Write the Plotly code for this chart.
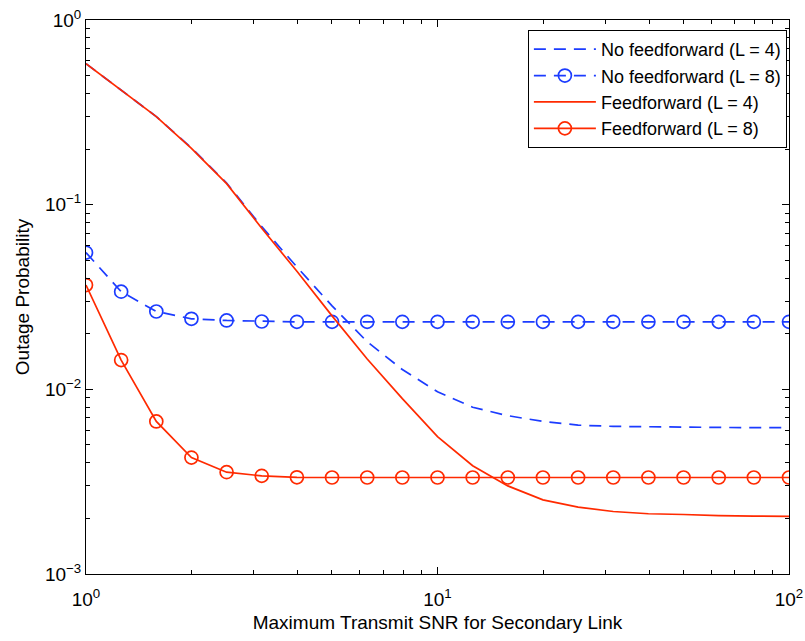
import plotly.graph_objects as go

# Maximum transmit SNR (x-axis grid)
snr = [1.0, 1.259, 1.585, 1.995, 2.512, 3.162, 3.981, 5.012, 6.310, 7.943,
       10.0, 12.59, 15.85, 19.95, 25.12, 31.62, 39.81, 50.12, 63.10, 79.43, 100.0]

# Outage probability series
no_ff_L4 = [0.58, 0.418, 0.300, 0.203, 0.131, 0.076, 0.046, 0.0283, 0.0181, 0.0128,
            0.0097, 0.0080, 0.0072, 0.0067, 0.0064, 0.0063, 0.00626, 0.00624, 0.00622, 0.0062, 0.0062]
no_ff_L8 = [0.055, 0.0338, 0.0264, 0.0241, 0.0236, 0.0233, 0.0232, 0.0232, 0.0232, 0.0232,
            0.0232, 0.0232, 0.0232, 0.0232, 0.0232, 0.0232, 0.0232, 0.0232, 0.0232, 0.0232, 0.0232]
ff_L4 = [0.58, 0.417, 0.300, 0.202, 0.130, 0.0745, 0.0436, 0.0250, 0.0146, 0.0089,
         0.00555, 0.00386, 0.0030, 0.00252, 0.0023, 0.00218, 0.00212, 0.0021, 0.00207, 0.00206, 0.00205]
ff_L8 = [0.0367, 0.0144, 0.0067, 0.00427, 0.00356, 0.0034, 0.00334, 0.00333, 0.00333, 0.00333,
         0.00333, 0.00333, 0.00333, 0.00333, 0.00333, 0.00333, 0.00333, 0.00333, 0.00333, 0.00333, 0.00333]

labels = ["No feedforward (L = 4)", "No feedforward (L = 8)",
          "Feedforward (L = 4)", "Feedforward (L = 8)"]

x_tickvals = [1, 10, 100]
x_ticktext = ["10<sup>0</sup>", "10<sup>1</sup>", "10<sup>2</sup>"]
y_tickvals = [0.001, 0.01, 0.1, 1]
y_ticktext = ["10<sup>\u22123</sup>", "10<sup>\u22122</sup>", "10<sup>\u22121</sup>", "10<sup>0</sup>"]

BLUE = "#1c3cff"
RED = "#ff2a00"
DASH = "12px,8px"
FONT = "Liberation Sans, Arial, Helvetica, sans-serif"

fig = go.Figure()
fig.add_trace(go.Scatter(x=snr, y=no_ff_L4, name=labels[0], mode="lines",
                         line=dict(color=BLUE, width=1.7, dash=DASH)))
fig.add_trace(go.Scatter(x=snr, y=no_ff_L8, name=labels[1], mode="lines+markers",
                         line=dict(color=BLUE, width=1.7, dash=DASH),
                         marker=dict(symbol="circle-open", size=13, color=BLUE,
                                     line=dict(width=1.7, color=BLUE))))
fig.add_trace(go.Scatter(x=snr, y=ff_L4, name=labels[2], mode="lines",
                         line=dict(color=RED, width=1.7)))
fig.add_trace(go.Scatter(x=snr, y=ff_L8, name=labels[3], mode="lines+markers",
                         line=dict(color=RED, width=1.7),
                         marker=dict(symbol="circle-open", size=13, color=RED,
                                     line=dict(width=1.7, color=RED))))

minor_x = [m * 10 ** e for e in range(0, 2) for m in range(2, 10)]
minor_y = [m * 10 ** e for e in range(-3, 0) for m in range(2, 10)]

axis_common = dict(type="log", showline=True, linecolor="black", linewidth=1,
                   mirror="ticks", ticks="inside", ticklen=7, tickcolor="black",
                   showgrid=False, zeroline=False, automargin=False,
                   tickfont=dict(family=FONT, size=19, color="black"))

fig.update_xaxes(**axis_common, range=[0, 2], tickmode="array",
                 tickvals=x_tickvals, ticktext=x_ticktext, ticklabelstandoff=8,
                 minor=dict(tickmode="array", tickvals=minor_x, ticks="inside",
                            ticklen=4, tickcolor="black"),
                 title=dict(text="Maximum Transmit SNR for Secondary Link",
                            font=dict(family=FONT, size=19, color="black"), standoff=6))
fig.update_yaxes(**axis_common, range=[-3, 0], tickmode="array",
                 tickvals=y_tickvals, ticktext=y_ticktext,
                 minor=dict(tickmode="array", tickvals=minor_y, ticks="inside",
                            ticklen=4, tickcolor="black"),
                 title=dict(text="Outage Probability",
                            font=dict(family=FONT, size=19, color="black"), standoff=10))

fig.update_layout(
    width=805, height=641,
    margin=dict(l=86, r=16, t=20, b=67),
    paper_bgcolor="white", plot_bgcolor="white",
    font=dict(family=FONT, size=19, color="black"),
    showlegend=True,
    legend=dict(x=0.997, y=0.982, xanchor="right", yanchor="top",
                bgcolor="white", bordercolor="black", borderwidth=1,
                font=dict(family=FONT, size=18, color="black"),
                itemwidth=62, tracegroupgap=0),
)

fig.write_html("out.html")
